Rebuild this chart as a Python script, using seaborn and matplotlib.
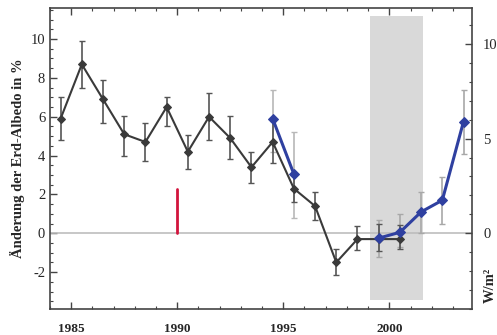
import numpy as np
import pandas as pd
import seaborn as sns
import matplotlib
matplotlib.use("Agg")
import matplotlib.pyplot as plt
from matplotlib.ticker import MultipleLocator

# ---- data ----
years_black = [1984.5, 1985.5, 1986.5, 1987.5, 1988.5, 1989.5, 1990.5, 1991.5,
               1992.5, 1993.5, 1994.5, 1995.5, 1996.5, 1997.5, 1998.5, 1999.5, 2000.5]
albedo_black = [5.9, 8.7, 6.9, 5.1, 4.7, 6.5, 4.2, 6.0, 4.9, 3.4, 4.7, 2.3, 1.4, -1.5, -0.3, -0.3, -0.3]
black_low = [4.8, 7.5, 5.7, 4.0, 3.7, 5.5, 3.3, 4.8, 3.8, 2.6, 3.6, 1.6, 0.7, -2.15, -0.85, -0.9, -0.8]
black_high = [7.0, 9.9, 7.9, 6.05, 5.7, 7.0, 5.07, 7.2, 6.05, 4.2, 5.8, 3.1, 2.1, -0.8, 0.35, 0.5, 0.4]

years_blue_a = [1994.5, 1995.5]
albedo_blue_a = [5.9, 3.05]
blue_a_low = [4.2, 0.8]
blue_a_high = [7.4, 5.2]

years_blue_b = [1999.5, 2000.5, 2001.5, 2002.5, 2003.5]
albedo_blue_b = [-0.25, 0.05, 1.1, 1.7, 5.75]
blue_b_low = [-1.2, -0.7, 0.0, 0.5, 4.1]
blue_b_high = [0.7, 1.0, 2.1, 2.9, 7.4]

red_year = 1990
red_top = 2.3
shade_years = (1999.07, 2001.6)

x_ticks = [1985, 1990, 1995, 2000]
left_ticks = [-2, 0, 2, 4, 6, 8, 10]
right_ticks = [0, 5, 10]

ylabel = "Änderung der Erd-Albedo in %"
ylabel_right = "W/m²"

# ---- style ----
sns.set_style("ticks")
plt.rcParams["font.family"] = ["Liberation Serif", "DejaVu Serif"]
plt.rcParams["xtick.direction"] = "in"
plt.rcParams["ytick.direction"] = "in"

fig = plt.figure(figsize=(4.97, 3.35), dpi=100)
ax = fig.add_axes([50 / 497, 1 - 309 / 335, 422 / 497, 301 / 335])

ylim = (-3.9, 11.6)
xlim = (1984.0, 2003.9)
ax.set_xlim(*xlim)
ax.set_ylim(*ylim)

# shaded period
ax.axvspan(shade_years[0], shade_years[1], ymin=0.03, ymax=0.975,
           color="#d9d9d9", lw=0, zorder=0)
# zero line
ax.axhline(0, color="#bdbdbd", lw=1.2, zorder=1)
# red marker line
ax.plot([red_year, red_year], [0, red_top], color="#d2143c", lw=2, zorder=2)

black_col = "#3a3a3a"
blue_col = "#2f40a0"

def errs(vals, lo, hi):
    v = np.array(vals)
    return np.vstack([v - np.array(lo), np.array(hi) - v])

ax.errorbar(years_blue_a, albedo_blue_a, yerr=errs(albedo_blue_a, blue_a_low, blue_a_high),
            fmt="none", ecolor="#b8b8b8", elinewidth=1.2, capsize=2, zorder=2)
ax.errorbar(years_blue_b, albedo_blue_b, yerr=errs(albedo_blue_b, blue_b_low, blue_b_high),
            fmt="none", ecolor="#a8a8a8", elinewidth=1.2, capsize=2, zorder=2)
ax.errorbar(years_black, albedo_black, yerr=errs(albedo_black, black_low, black_high),
            fmt="none", ecolor="#555555", elinewidth=1.2, capsize=2.5, zorder=3)

df_black = pd.DataFrame({"year": years_black, "albedo": albedo_black})
df_a = pd.DataFrame({"year": years_blue_a, "albedo": albedo_blue_a})
df_b = pd.DataFrame({"year": years_blue_b, "albedo": albedo_blue_b})

sns.lineplot(data=df_black, x="year", y="albedo", ax=ax, color=black_col, lw=1.5,
             marker="D", markersize=4, markeredgecolor=black_col, zorder=4)
sns.lineplot(data=df_a, x="year", y="albedo", ax=ax, color=blue_col, lw=2.2,
             marker="D", markersize=5, markeredgecolor=blue_col, zorder=5)
sns.lineplot(data=df_b, x="year", y="albedo", ax=ax, color=blue_col, lw=2.2,
             marker="D", markersize=5, markeredgecolor=blue_col, zorder=5)

# axes formatting
ax.set_xticks(x_ticks)
ax.set_xticklabels([str(t) for t in x_ticks], fontsize=9.5, fontweight="bold")
ax.xaxis.set_minor_locator(MultipleLocator(1))
ax.set_yticks(left_ticks)
ax.set_yticklabels([str(t) for t in left_ticks], fontsize=10.5)
ax.yaxis.set_minor_locator(MultipleLocator(0.5))
ax.tick_params(which="both", top=True, right=False, color="#444444")
ax.tick_params(which="major", length=5, width=1)
ax.tick_params(which="minor", length=2.5, width=0.8)
ax.tick_params(axis="x", pad=10)
ax.set_xlabel("")
ax.set_ylabel(ylabel, fontsize=10.5, fontweight="bold", labelpad=4)
for s in ax.spines.values():
    s.set_color("#444444")
    s.set_linewidth(1.2)

ax2 = ax.twinx()
scale = 0.975
ax2.set_ylim(ylim[0] / scale, ylim[1] / scale)
ax2.set_yticks(right_ticks)
ax2.set_yticklabels([str(t) for t in right_ticks], fontsize=10.5)
ax2.yaxis.set_minor_locator(MultipleLocator(1))
ax2.tick_params(which="both", direction="in", color="#444444", pad=8)
ax2.tick_params(which="major", length=5, width=1)
ax2.tick_params(which="minor", length=2.5, width=0.8)
for s in ax2.spines.values():
    s.set_visible(False)

fig.text(490 / 497, 1 - 285 / 335, ylabel_right, rotation=90, fontsize=10.5,
         fontweight="bold", ha="center", va="center")

fig.savefig("out.png", dpi=100)
